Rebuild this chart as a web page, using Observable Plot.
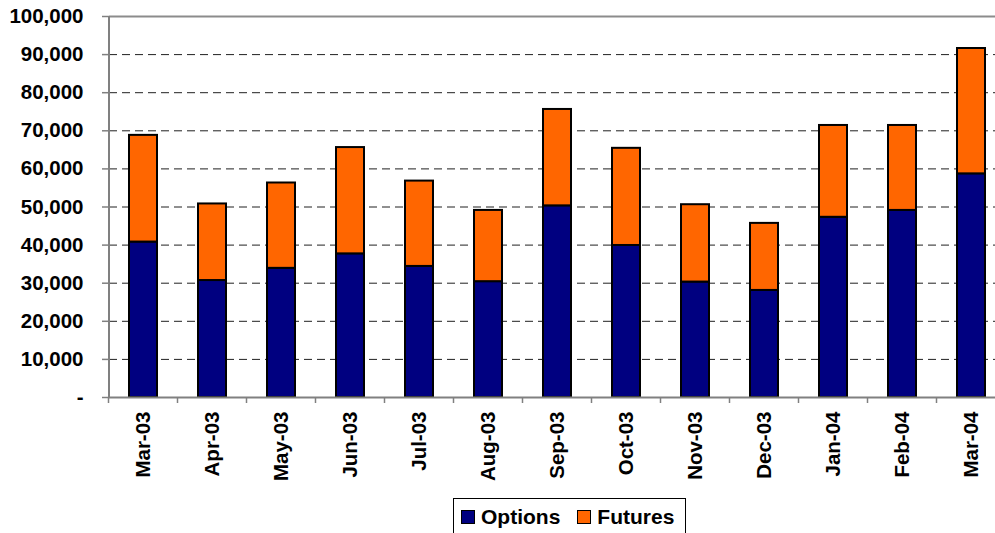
<!DOCTYPE html>
<html><head><meta charset="utf-8">
<script src="https://cdn.jsdelivr.net/npm/d3@7"></script>
<script src="https://cdn.jsdelivr.net/npm/@observablehq/plot@0.6"></script>
<style>
html,body{margin:0;padding:0;background:#fff;overflow:hidden;}
#wrap{position:relative;width:995px;height:533px;overflow:hidden;font-family:"Liberation Sans",Arial,sans-serif;}
#wrap svg{max-width:none !important;display:block;}
#legend{position:absolute;left:453px;top:498px;width:233px;height:46px;border:1px solid #000;box-sizing:border-box;font-weight:bold;font-size:21px;line-height:21px;}
#legend .row{position:absolute;left:7px;top:7px;display:flex;align-items:center;height:21px;white-space:nowrap;}
#legend .sw{width:12px;height:12px;border:1.5px solid #000;display:inline-block;margin-right:6px;}
#legend .item{display:flex;align-items:center;margin-right:17px;}
</style>
</head><body>
<div id="wrap"><div id="chart"></div><div id="legend"></div></div>
<script>
const months = ["Mar-03","Apr-03","May-03","Jun-03","Jul-03","Aug-03","Sep-03","Oct-03","Nov-03","Dec-03","Jan-04","Feb-04","Mar-04"];
const options = [40800,30700,33900,37700,34400,30400,50300,39900,30300,28100,47300,49100,58700];
const futures = [28000,20100,22400,27900,22400,18700,25300,25500,20300,17600,24100,22300,32900];
const series = ["Options","Futures"];
const colors = ["#000080","#FF6600"];
const yTicks = [0,10000,20000,30000,40000,50000,60000,70000,80000,90000,100000];

const data = months.flatMap((m,i)=>[
  {month:m,type:series[0],value:options[i]},
  {month:m,type:series[1],value:futures[i]}
]);

const fmt = d => d === 0 ? "-" : d3.format(",")(d);

const chart = Plot.plot({
  width: 995,
  height: 495,
  marginTop: 16,
  marginBottom: 98,
  marginLeft: 109,
  marginRight: -11,
  x: {domain: months, paddingInner: 0.59, paddingOuter: 0.295, label: null},
  y: {domain: [0, 100000], label: null},
  color: {domain: series, range: colors},
  style: {fontFamily: "'Liberation Sans', Arial, sans-serif", fontSize: "20.5px", fontWeight: "bold", color: "#000", background: "#fff", overflow: "hidden"},
  marks: [
    Plot.ruleY(yTicks.filter(d => d > 0 && d < 100000), {stroke: "#202020", strokeDasharray: "8,5", strokeWidth: 1}),
    Plot.ruleY([100000], {stroke: "#8c8c8c", strokeWidth: 2}),
    Plot.barY(data, {x: "month", y: "value", fill: "type", stroke: "#000", strokeWidth: 2}),
    Plot.ruleY([0], {stroke: "#808080", strokeWidth: 2}),
    Plot.axisY({ticks: yTicks, tickFormat: fmt, tickSize: 7, tickPadding: 19, stroke: "#808080", strokeWidth: 1.5, fill: "#000", label: null}),
    Plot.axisX({tickRotate: -90, tickSize: 0, tickPadding: 14, fill: "#000", label: null})
  ]
});
document.getElementById("chart").appendChild(chart);

// axis line and band-boundary ticks derived from the Plot scales
const sx = chart.scale("x"), sy = chart.scale("y");
const svg = d3.select(chart);
const gap = (sx.step - sx.bandwidth) / 2;
const x0 = sx.range[0];
const yBase = sy.apply(0), yTop = sy.apply(100000);
svg.append("line").attr("x1", x0).attr("x2", x0).attr("y1", yTop).attr("y2", yBase + 1)
  .attr("stroke", "#808080").attr("stroke-width", 2);
const bounds = months.map(m => sx.apply(m) - gap).concat([sx.apply(months[months.length-1]) + sx.bandwidth + gap]);
svg.append("g").selectAll("line").data(bounds).join("line")
  .attr("x1", d => d).attr("x2", d => d).attr("y1", yBase).attr("y2", yBase + 6)
  .attr("stroke", "#808080").attr("stroke-width", 1.5);

// legend
const leg = d3.select("#legend").append("div").attr("class","row");
series.forEach((s,i) => {
  const it = leg.append("div").attr("class","item");
  it.append("span").attr("class","sw").style("background", colors[i]);
  it.append("span").text(s);
});
</script>
</body></html>
